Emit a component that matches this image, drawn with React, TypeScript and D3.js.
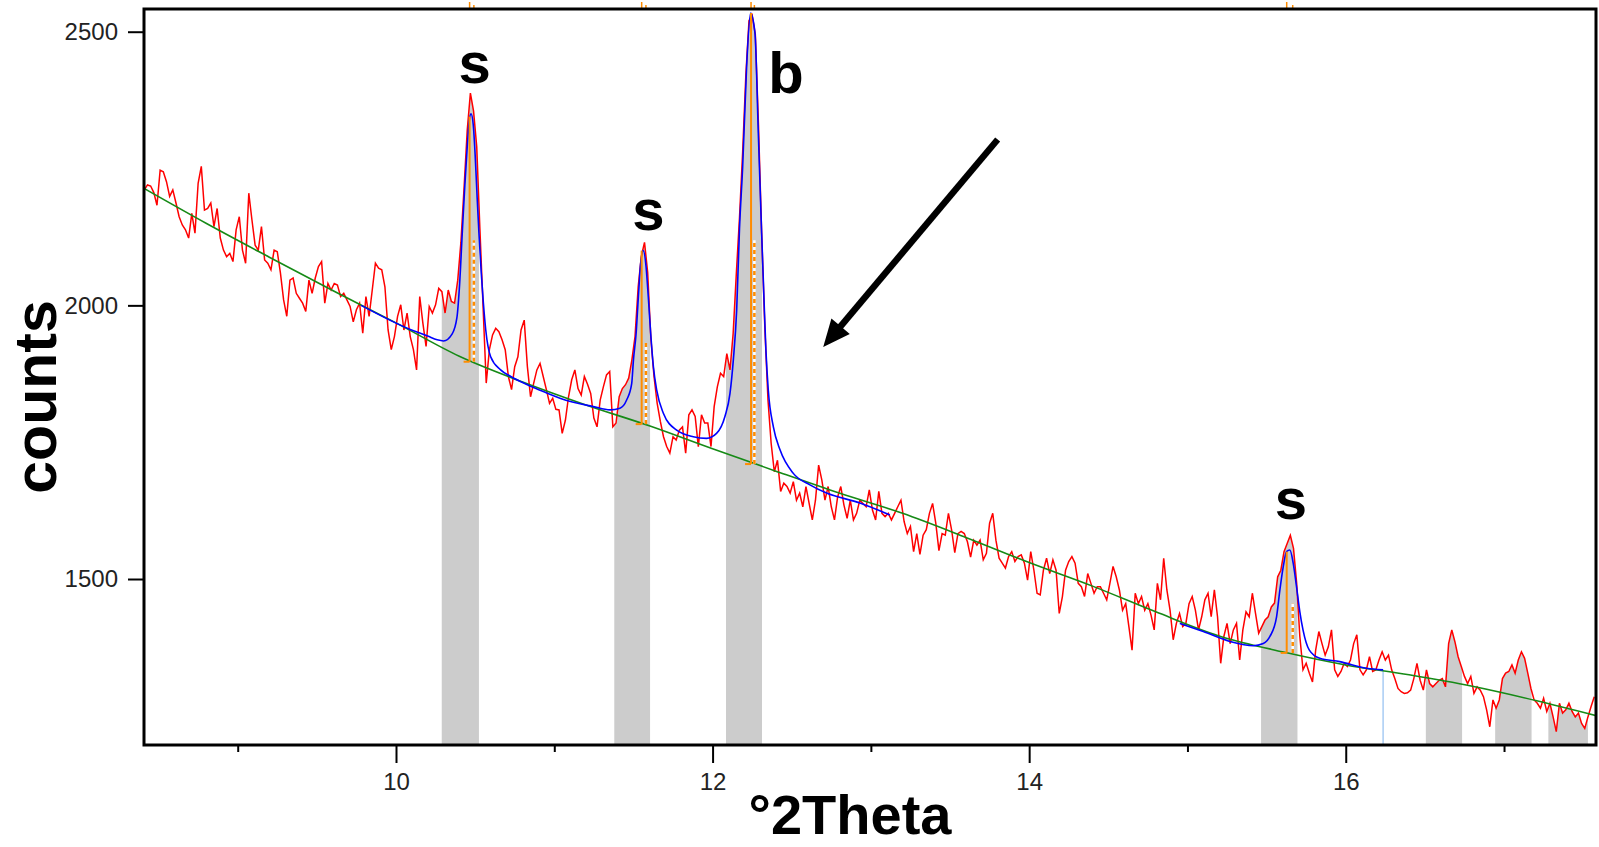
import { useEffect, useRef } from "react";
import * as d3 from "d3";

const WIDTH = 1599;
const HEIGHT = 847;

// measured scan: start angle, step and counts
const scanStart = 8.41;
const scanStep = 0.02;
const counts = [
  2211, 2220, 2218, 2206, 2183, 2247, 2244, 2226, 2199, 2211,
  2187, 2162, 2147, 2138, 2123, 2168, 2132, 2223, 2254, 2174,
  2177, 2187, 2144, 2177, 2123, 2101, 2089, 2095, 2080, 2138,
  2162, 2101, 2077, 2205, 2156, 2110, 2101, 2144, 2083, 2077,
  2065, 2101, 2098, 2059, 2010, 1980, 2046, 2050, 2022, 2013,
  2004, 1989, 2046, 2022, 2050, 2071, 2080, 2004, 2040, 2028,
  2040, 2037, 2016, 2022, 2010, 1998, 1970, 1992, 2004, 1949,
  2016, 1980, 2028, 2077, 2068, 2065, 2034, 1955, 1919, 1943,
  1980, 2001, 1955, 1986, 1943, 1919, 1882, 2016, 1967, 1925,
  1998, 1986, 2001, 2031, 2025, 1986, 2028, 2007, 2004, 2046,
  2115, 2215, 2320, 2388, 2355, 2290, 2140, 1998, 1858, 1919,
  1946, 1958, 1952, 1937, 1919, 1870, 1846, 1888, 1906, 1955,
  1973, 1888, 1833, 1858, 1882, 1894, 1870, 1846, 1821, 1830,
  1810,
  1809, 1766, 1790, 1833, 1864, 1882, 1848, 1836, 1870,
  1856, 1839, 1794, 1778, 1827, 1851, 1873, 1879, 1778, 1785,
  1833, 1848, 1855, 1867, 1900, 1943, 2034, 2090, 2115, 2060,
  1940, 1870, 1821, 1788, 1760, 1742, 1730, 1760, 1754, 1772,
  1778, 1730, 1800, 1809, 1797, 1742, 1800, 1785, 1785, 1742,
  1815, 1851, 1876, 1870, 1912, 1882, 1949, 2058, 2160, 2280,
  2420, 2520, 2530, 2495, 2330, 2132, 1960, 1827, 1748, 1696,
  1717, 1660, 1675, 1669, 1657, 1678, 1644, 1657, 1632, 1669,
  1638, 1608, 1644, 1708, 1681, 1644, 1669, 1632, 1608, 1650,
  1669, 1635, 1611, 1644, 1608, 1620, 1644, 1638, 1632, 1663,
  1626, 1608, 1660, 1620, 1614, 1620, 1608, 1620, 1632, 1644,
  1605, 1583, 1596, 1550, 1583, 1545, 1580, 1590, 1620, 1638,
  1602, 1552, 1583, 1580, 1620, 1590, 1548, 1583, 1587, 1583,
  1568, 1540, 1571, 1562,
  1571, 1535, 1547, 1602, 1620, 1571,
  1538, 1529, 1520, 1541, 1550, 1532, 1541, 1544, 1529, 1498,
  1550, 1516, 1474, 1471, 1516, 1538, 1510, 1535, 1516, 1437,
  1468, 1516, 1532, 1541, 1529, 1492, 1486, 1468, 1510, 1492,
  1474, 1486, 1486, 1474, 1462, 1492, 1523, 1504, 1480, 1443,
  1455, 1413, 1370, 1474, 1455, 1468, 1443, 1455, 1434, 1407,
  1492, 1462, 1538, 1480, 1443, 1389, 1419, 1437, 1413, 1419,
  1455, 1468, 1443, 1407, 1431, 1462, 1474, 1431, 1480, 1431,
  1346, 1395, 1419, 1382, 1407, 1419, 1352, 1407, 1440, 1431,
  1474, 1437, 1401, 1413, 1425, 1431, 1449, 1456, 1504, 1516,
  1550, 1565, 1580, 1556, 1492, 1395,
  1334, 1346, 1328, 1312,
  1370, 1404, 1382, 1361, 1376, 1407, 1334, 1322, 1331, 1346,
  1340, 1352, 1382, 1398, 1334, 1325, 1334, 1358, 1331, 1334,
  1352, 1367, 1352, 1361, 1334, 1318, 1300, 1294, 1291, 1292,
  1297, 1318, 1346, 1315, 1297, 1334, 1309, 1303, 1309, 1315,
  1318, 1303, 1382, 1407, 1385, 1358, 1340, 1322, 1309, 1322,
  1291, 1303, 1297, 1285, 1261, 1230, 1279, 1264, 1279, 1318,
  1328, 1331, 1343, 1328, 1352, 1367, 1355, 1328, 1300, 1279,
  1273, 1264, 1282, 1258, 1273, 1248, 1221, 1273, 1255, 1261,
  1273, 1258, 1248, 1255, 1236, 1227, 1248, 1267, 1285,
];

// background (green)
const bgTheta = [8.4, 8.8, 9.2, 9.6, 10.0, 10.4, 10.8, 11.2, 11.6, 12.0, 12.4, 12.8,
  13.2, 13.6, 14.0, 14.4, 14.8, 15.2, 15.6, 16.0, 16.4, 16.8, 17.2, 17.6];
const bgCounts = [2215, 2150, 2088, 2027, 1968, 1907, 1860, 1818, 1780, 1738, 1697, 1657,
  1620, 1576, 1530, 1487, 1440, 1396, 1367, 1343, 1325, 1304, 1278, 1249];

// fitted profile (blue), two segments
const fit1Theta = [9.78, 10.09, 10.2, 10.26, 10.3, 10.355, 10.385, 10.4, 10.42, 10.435,
  10.45, 10.462, 10.474, 10.488, 10.5, 10.513, 10.524, 10.539, 10.552, 10.567, 10.598,
  10.661, 10.725, 10.83, 10.935, 11.04, 11.247, 11.352, 11.415, 11.457, 11.489, 11.5,
  11.517, 11.531, 11.545, 11.562, 11.58, 11.594, 11.609, 11.626, 11.647, 11.689, 11.773,
  11.878, 11.962, 12.025, 12.078, 12.11, 12.131, 12.152, 12.17, 12.19, 12.215, 12.24,
  12.268, 12.289, 12.31, 12.325, 12.337, 12.352, 12.384, 12.426, 12.51, 12.615, 12.72,
  12.931, 13.12];
const fit1Counts = [2000, 1956, 1944, 1937, 1935, 1948, 1978, 2030, 2140, 2220,
  2290, 2335, 2350, 2330, 2275, 2195, 2132, 2058, 2004, 1955, 1906,
  1882, 1870, 1855, 1842, 1830, 1815, 1809, 1812, 1827, 1857, 1900,
  1949, 2015, 2075, 2100, 2070, 2015, 1949, 1888, 1845, 1803, 1772,
  1760, 1757, 1766, 1797, 1839, 1900, 1990, 2140, 2253, 2436, 2534,
  2497, 2314, 2132, 2010, 1918, 1845, 1778, 1736, 1693, 1672, 1657,
  1639, 1617];
const fit2Theta = [14.952, 15.1, 15.268, 15.416, 15.479, 15.521, 15.563, 15.584, 15.605,
  15.626, 15.647, 15.668, 15.689, 15.71, 15.73, 15.77, 15.836, 15.962, 16.131, 16.236];
const fit2Counts = [1419, 1404, 1386, 1378, 1382, 1395, 1431, 1480, 1522,
  1550, 1553, 1529, 1486, 1440, 1407, 1370, 1355, 1349, 1337, 1334];

// peak positions (orange)
const peakTheta = [10.465, 11.552, 12.243, 15.627];
const peakTop = [2345, 2100, 2534, 1550];
const peakBase = [1897, 1783, 1710, 1365];
const peakDashTheta = [10.492, 11.579, 12.264, 15.665];
const peakDashTop = [2119, 1931, 2119, 1455];

// integration windows (grey)
const windowStart = [10.289, 11.379, 12.085, 15.465, 16.506, 16.944, 17.28];
const windowEnd = [10.524, 11.605, 12.312, 15.695, 16.735, 17.174, 17.53];

const markerTheta = 16.236;
const markerCounts = 1334;

const labelText = ["s", "s", "b", "s"];
const labelTheta = [10.496, 11.595, 12.464, 15.654];
const labelCounts = [2406, 2138, 2388, 1609];

const arrowFrom = [13.801, 2303];
const arrowTo = [12.699, 1924];

const xMajor = [10, 12, 14, 16];
const xMinor = [9, 11, 13, 15, 17];
const yMajor = [1500, 2000, 2500];

const FONT = "'Liberation Sans', Arial, sans-serif";

function XrdChart() {
  const svgRef = useRef<SVGSVGElement>(null);
  const margin = { top: 9, bottom: 102, left: 144, right: 3 };

  useEffect(() => {
    const x = d3.scaleLinear().domain([8.408, 17.581])
      .range([margin.left, WIDTH - margin.right]);
    const y = d3.scaleLinear().domain([1196.7, 2541.5])
      .range([HEIGHT - margin.bottom, margin.top]);

    const scan = counts.map((c, i) => [scanStart + i * scanStep, c] as [number, number]);

    const svg = d3.select(svgRef.current);
    svg.selectAll("*").remove();

    const defs = svg.append("defs");
    defs.append("clipPath").attr("id", "plot-clip")
      .append("rect")
      .attr("x", margin.left).attr("y", margin.top)
      .attr("width", WIDTH - margin.left - margin.right)
      .attr("height", HEIGHT - margin.top - margin.bottom);

    // grey windows under the scan
    const area = d3.area<[number, number]>()
      .x(d => x(d[0])).y0(y(1196.7)).y1(d => y(d[1]));
    windowStart.forEach((s, i) => {
      defs.append("clipPath").attr("id", `win-${i}`)
        .append("rect")
        .attr("x", x(s)).attr("y", margin.top)
        .attr("width", x(windowEnd[i]) - x(s))
        .attr("height", HEIGHT - margin.top - margin.bottom);
      svg.append("path")
        .attr("clip-path", `url(#win-${i})`)
        .attr("fill", "#cccccc")
        .attr("d", area(scan));
    });

    const plot = svg.append("g").attr("clip-path", "url(#plot-clip)");

    // light blue marker
    plot.append("line")
      .attr("x1", x(markerTheta)).attr("x2", x(markerTheta))
      .attr("y1", y(1196.7)).attr("y2", y(markerCounts))
      .attr("stroke", "#a8ccf4").attr("stroke-width", 1.5);

    const line = d3.line<[number, number]>().x(d => x(d[0])).y(d => y(d[1]));

    // scan
    plot.append("path")
      .attr("fill", "none").attr("stroke", "#ff0000").attr("stroke-width", 1.5)
      .attr("stroke-linejoin", "miter")
      .attr("d", line(scan));

    // background
    plot.append("path")
      .attr("fill", "none").attr("stroke", "#168a16").attr("stroke-width", 1.6)
      .attr("d", line.curve(d3.curveMonotoneX)(bgTheta.map((t, i) => [t, bgCounts[i]])));

    // fit
    [[fit1Theta, fit1Counts], [fit2Theta, fit2Counts]].forEach(([ts, cs]) => {
      plot.append("path")
        .attr("fill", "none").attr("stroke", "#0000ff").attr("stroke-width", 1.6)
        .attr("d", line.curve(d3.curveMonotoneX)(ts.map((t, i) => [t, cs[i]])));
    });

    // peak markers
    peakTheta.forEach((p, i) => {
      plot.append("line")
        .attr("x1", x(p) - 6).attr("x2", x(p))
        .attr("y1", y(peakBase[i])).attr("y2", y(peakBase[i]))
        .attr("stroke", "#ff8c00").attr("stroke-width", 2);
      plot.append("line")
        .attr("x1", x(p)).attr("x2", x(p))
        .attr("y1", y(peakBase[i])).attr("y2", y(peakTop[i]))
        .attr("stroke", "#ff8c00").attr("stroke-width", 2);
      const d = peakDashTheta[i];
      plot.append("line")
        .attr("x1", x(d)).attr("x2", x(d))
        .attr("y1", y(peakBase[i])).attr("y2", y(peakDashTop[i]))
        .attr("stroke", "#ffffff").attr("stroke-width", 2.5);
      plot.append("line")
        .attr("x1", x(d)).attr("x2", x(d))
        .attr("y1", y(peakBase[i])).attr("y2", y(peakDashTop[i]))
        .attr("stroke", "#ff8c00").attr("stroke-width", 2.5)
        .attr("stroke-dasharray", "4 3");
      // ticks above the frame
      svg.append("line")
        .attr("x1", x(p)).attr("x2", x(p)).attr("y1", 2).attr("y2", margin.top)
        .attr("stroke", "#ff8c00").attr("stroke-width", 1.5);
      svg.append("line")
        .attr("x1", x(d)).attr("x2", x(d)).attr("y1", 5).attr("y2", margin.top)
        .attr("stroke", "#ff8c00").attr("stroke-width", 1.5);
    });

    // frame
    svg.append("rect")
      .attr("x", margin.left).attr("y", margin.top)
      .attr("width", WIDTH - margin.left - margin.right)
      .attr("height", HEIGHT - margin.top - margin.bottom)
      .attr("fill", "none").attr("stroke", "#000").attr("stroke-width", 3);

    // axes
    const styleAxis = (g: d3.Selection<SVGGElement, unknown, null, undefined>) => {
      g.select(".domain").remove();
      g.selectAll("line").attr("stroke", "#000").attr("stroke-width", 2);
      g.selectAll("text").attr("fill", "#222").style("font-size", "24px").style("font-family", FONT);
    };
    svg.append("g")
      .attr("transform", `translate(${margin.left - 1}, 0)`)
      .call(d3.axisLeft(y).tickValues(yMajor).tickSize(15).tickPadding(10).tickFormat(d3.format("d")))
      .call(styleAxis);
    svg.append("g")
      .attr("transform", `translate(0, ${HEIGHT - margin.bottom + 1})`)
      .call(d3.axisBottom(x).tickValues(xMajor).tickSize(17).tickPadding(10).tickFormat(d3.format("d")))
      .call(styleAxis);
    svg.append("g")
      .attr("transform", `translate(0, ${HEIGHT - margin.bottom + 1})`)
      .call(d3.axisBottom(x).tickValues(xMinor).tickSize(6).tickFormat(() => ""))
      .call(styleAxis);

    // peak labels
    labelText.forEach((t, i) => {
      svg.append("text")
        .attr("x", x(labelTheta[i])).attr("y", y(labelCounts[i]))
        .attr("text-anchor", "middle")
        .style("font-family", FONT).style("font-weight", "bold").style("font-size", "58px")
        .text(t);
    });

    // arrow
    const x1 = x(arrowFrom[0]), y1 = y(arrowFrom[1]);
    const x2 = x(arrowTo[0]), y2 = y(arrowTo[1]);
    const ang = Math.atan2(y2 - y1, x2 - x1);
    const headLen = 27, headHalf = 12;
    const bx = x2 - headLen * Math.cos(ang), by = y2 - headLen * Math.sin(ang);
    svg.append("line")
      .attr("x1", x1).attr("y1", y1).attr("x2", bx + 4 * Math.cos(ang)).attr("y2", by + 4 * Math.sin(ang))
      .attr("stroke", "#000").attr("stroke-width", 6.5);
    svg.append("polygon")
      .attr("points", [
        [x2, y2],
        [bx - headHalf * Math.sin(ang), by + headHalf * Math.cos(ang)],
        [bx + headHalf * Math.sin(ang), by - headHalf * Math.cos(ang)],
      ].map(p => p.join(",")).join(" "))
      .attr("fill", "#000");

    // axis titles
    svg.append("text")
      .attr("transform", `translate(56, 397) rotate(-90)`)
      .attr("text-anchor", "middle")
      .style("font-family", FONT).style("font-weight", "bold").style("font-size", "59px")
      .text("counts");
    svg.append("text")
      .attr("x", 850).attr("y", 834)
      .attr("text-anchor", "middle")
      .style("font-family", FONT).style("font-weight", "bold").style("font-size", "56px")
      .text("°2Theta");
  }, []);

  return (
    <svg ref={svgRef} width={WIDTH} height={HEIGHT}
      style={{ position: "absolute", left: 0, top: 0, background: "#fff" }} />
  );
}

export default function App() {
  return <XrdChart />;
}
